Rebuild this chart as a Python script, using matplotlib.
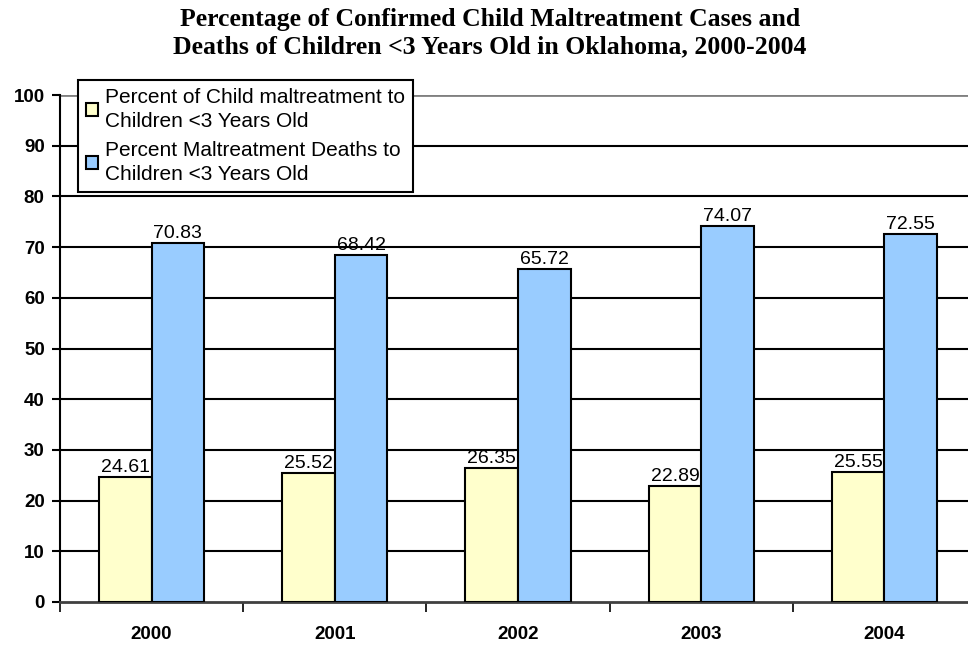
import matplotlib
matplotlib.use("Agg")
import matplotlib.pyplot as plt
import numpy as np

years = ["2000", "2001", "2002", "2003", "2004"]
pct_cases = [24.61, 25.52, 26.35, 22.89, 25.55]
pct_deaths = [70.83, 68.42, 65.72, 74.07, 72.55]
labels = ["Percent of Child maltreatment to\nChildren <3 Years Old",
          "Percent Maltreatment Deaths to\nChildren <3 Years Old"]
title = "Percentage of Confirmed Child Maltreatment Cases and\nDeaths of Children <3 Years Old in Oklahoma, 2000-2004"

plt.rcParams['font.family'] = ['Liberation Sans', 'DejaVu Sans']

fig = plt.figure(figsize=(9.68, 6.45), dpi=100)
W, H = 968, 645
x0, x1 = 60, 976
y0, y1 = 602, 95
ax = fig.add_axes([x0 / W, 1 - y0 / H, (x1 - x0) / W, (y0 - y1) / H])

x = np.arange(len(years))
bw = 0.287
b1 = ax.bar(x - bw / 2, pct_cases, bw, color="#FFFFCC", edgecolor="black", linewidth=1.5,
            label=labels[0], zorder=3)
b2 = ax.bar(x + bw / 2, pct_deaths, bw, color="#99CCFF", edgecolor="black", linewidth=1.5,
            label=labels[1], zorder=3)

for bars, vals in ((b1, pct_cases), (b2, pct_deaths)):
    for r, v in zip(bars, vals):
        ax.text(r.get_x() + r.get_width() / 2, v + 0.2, f"{v:.2f}", ha="center", va="bottom",
                fontsize=14, zorder=4)

ax.set_xlim(-0.5, len(years) - 0.5)
ax.set_ylim(0, 100)
ax.set_yticks(np.arange(0, 101, 10))
ax.set_yticklabels([str(v) for v in range(0, 101, 10)], fontsize=13.5, fontweight="bold")
for v in range(10, 100, 10):
    ax.axhline(v, color="black", linewidth=1.5, zorder=1)

ax.set_xticks(np.arange(-0.5, len(years)), minor=False)
ax.set_xticklabels([])
ax.set_xticks(x, minor=True)
ax.set_xticklabels(years, minor=True, fontsize=13.5, fontweight="bold")
ax.tick_params(axis="x", which="minor", length=0, pad=17)
ax.tick_params(axis="x", which="major", length=7, width=1.2, direction="out", color="black")
ax.tick_params(axis="y", length=6, width=1.5, direction="out", pad=5)

for s in ("top", "right"):
    ax.spines[s].set_visible(False)
ax.axhline(100, color="#808080", linewidth=2, zorder=1)
ax.spines["left"].set_linewidth(1.5)
ax.spines["bottom"].set_linewidth(2)
ax.spines["bottom"].set_color("#404040")

leg = fig.legend(handles=[b1, b2], labels=labels, loc="upper left",
                 bbox_to_anchor=(78 / W, 1 - 80 / H), fontsize=15, frameon=True,
                 fancybox=False, edgecolor="black", handlelength=0.55, handleheight=0.55,
                 handletextpad=0.35, borderpad=0.4, labelspacing=0.5, borderaxespad=0,
                 framealpha=1)
for t in leg.get_texts():
    t.set_linespacing(1.3)
leg.get_frame().set_linewidth(1.5)

fig.text(490 / W, 1 - 33 / H, title, ha="center", va="center", fontsize=18.5,
         fontweight="bold", family=["Liberation Serif", "DejaVu Serif"], linespacing=1.25)

fig.savefig("out.png", dpi=100)
